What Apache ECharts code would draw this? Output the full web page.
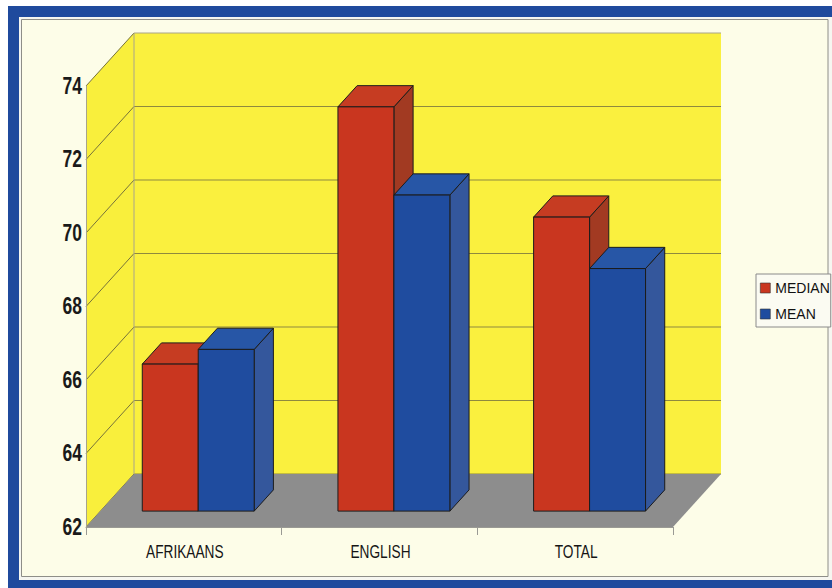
<!DOCTYPE html>
<html>
<head>
<meta charset="utf-8">
<script src="https://cdn.jsdelivr.net/npm/echarts@6/dist/echarts.min.js"></script>
<style>
  html, body { margin: 0; padding: 0; background: #ffffff; }
  #chart { width: 832px; height: 588px; }
</style>
</head>
<body>
<div id="chart"></div>
<script>
// Language groups and their scores
const CATEGORIES = ['AFRIKAANS', 'ENGLISH', 'TOTAL'];
const MEDIAN = [66.0, 73.0, 70.0];
const MEAN = [66.4, 70.6, 68.6];
const SERIES_NAMES = ['MEDIAN', 'MEAN'];
const Y_TICKS = [62, 64, 66, 68, 70, 72, 74];

// Pseudo-3D projection: the depth axis runs up and to the right
const DEPTH_DX = 48;
const DEPTH_DY = -53;
const BAR_NEAR = 0.3;   // bars sit between 30% and 70% of the depth
const BAR_FAR = 0.7;
const BAR_FRAC = 0.286; // width of one bar relative to a category band

// Condensed lettering: a regular face squeezed horizontally
const LABEL_FONT = "'Liberation Sans', Arial, sans-serif";
const SQUEEZE = 0.76;

const FACE = {
  MEDIAN: { front: '#c9361f', top: '#c63c22', side: '#a23a22' },
  MEAN:   { front: '#1f4c9f', top: '#2756a6', side: '#34579c' }
};

const chart = echarts.init(document.getElementById('chart'), null, { renderer: 'svg' });

// Side wall, back wall, floor and the value grid lines on the walls
function renderBox(params, api) {
  const cs = params.coordSys;
  const x0 = cs.x, x1 = cs.x + cs.width;
  const yTop = api.coord([0, Y_TICKS[Y_TICKS.length - 1]])[1];
  const yBot = api.coord([0, Y_TICKS[0]])[1];
  const children = [];
  children.push({ type: 'polygon', shape: { points: [[x0, yBot], [x0, yTop], [x0 + DEPTH_DX, yTop + DEPTH_DY], [x0 + DEPTH_DX, yBot + DEPTH_DY]] },
    style: { fill: '#f9ef3c' } });
  children.push({ type: 'rect', shape: { x: x0 + DEPTH_DX, y: yTop + DEPTH_DY, width: x1 - x0, height: yBot - yTop },
    style: { fill: '#faf03e' } });
  Y_TICKS.forEach(function (v, k) {
    const y = api.coord([0, v])[1];
    const c = (k === Y_TICKS.length - 1) ? '#a8a48a' : '#8e893e';
    children.push({ type: 'line', shape: { x1: x0, y1: y, x2: x0 + DEPTH_DX, y2: y + DEPTH_DY }, style: { stroke: '#77733a', lineWidth: 1 } });
    children.push({ type: 'line', shape: { x1: x0 + DEPTH_DX, y1: y + DEPTH_DY, x2: x1 + DEPTH_DX, y2: y + DEPTH_DY }, style: { stroke: c, lineWidth: 1 } });
  });
  children.push({ type: 'line', shape: { x1: x0 + DEPTH_DX, y1: yTop + DEPTH_DY, x2: x0 + DEPTH_DX, y2: yBot + DEPTH_DY }, style: { stroke: '#a8a48a', lineWidth: 1 } });
  children.push({ type: 'polygon', shape: { points: [[x0, yBot], [x1, yBot], [x1 + DEPTH_DX, yBot + DEPTH_DY], [x0 + DEPTH_DX, yBot + DEPTH_DY]] },
    style: { fill: '#8d8d8d' } });
  return { type: 'group', children: children };
}

// Tick labels of both axes, placed through the axis scales
function renderLabels(params, api) {
  const cs = params.coordSys;
  const children = [];
  Y_TICKS.forEach(function (v) {
    const y = api.coord([0, v])[1];
    children.push({ type: 'text', x: cs.x - 4, y: y, scaleX: SQUEEZE,
      style: { text: String(v), x: 0, y: 0, align: 'right', verticalAlign: 'middle',
        fontFamily: LABEL_FONT, fontWeight: 'bold', fontSize: 23, fill: '#1a1a1a' } });
  });
  const yBase = cs.y + cs.height;
  CATEGORIES.forEach(function (c, i) {
    const x = api.coord([i, Y_TICKS[0]])[0];
    children.push({ type: 'text', x: x + 1, y: yBase + 24, scaleX: SQUEEZE - 0.02,
      style: { text: c, x: 0, y: 0, align: 'center', verticalAlign: 'middle',
        fontFamily: LABEL_FONT, fontSize: 18.5, fill: '#151515' } });
  });
  return { type: 'group', children: children };
}

function barRenderer(seriesIdx, faces) {
  return function (params, api) {
    const i = api.value(0), v = api.value(1);
    const base = api.coord([i, Y_TICKS[0]]);
    const top = api.coord([i, v]);
    const band = api.size([1, 0])[0];
    const w = band * BAR_FRAC;
    const ox = DEPTH_DX * BAR_NEAR, oy = DEPTH_DY * BAR_NEAR;
    const dx = DEPTH_DX * (BAR_FAR - BAR_NEAR), dy = DEPTH_DY * (BAR_FAR - BAR_NEAR);
    const xl = base[0] + ox - w + seriesIdx * w;
    const xr = xl + w;
    const yb = base[1] + oy;
    const yt = top[1] + oy;
    const line = { stroke: '#1c1c1c', lineWidth: 1, lineJoin: 'round' };
    return {
      type: 'group',
      children: [
        { type: 'polygon', shape: { points: [[xr, yt], [xr + dx, yt + dy], [xr + dx, yb + dy], [xr, yb]] },
          style: Object.assign({ fill: faces.side }, line) },
        { type: 'polygon', shape: { points: [[xl, yt], [xr, yt], [xr + dx, yt + dy], [xl + dx, yt + dy]] },
          style: Object.assign({ fill: faces.top }, line) },
        { type: 'rect', shape: { x: xl, y: yt, width: w, height: yb - yt },
          style: Object.assign({ fill: faces.front }, line) }
      ]
    };
  };
}

const option = {
  animation: false,
  graphic: [
    { type: 'rect', z: -100, shape: { x: 8, y: 6, width: 900, height: 600 }, style: { fill: '#1f4a9d' } },
    { type: 'rect', z: -99, shape: { x: 19, y: 17, width: 900, height: 563 }, style: { fill: '#f6f6f0' } },
    { type: 'rect', z: -98, shape: { x: 21.5, y: 19.5, width: 806.5, height: 557 }, style: { fill: '#fdfde8', stroke: '#8e8e88', lineWidth: 1 } }
  ],
  grid: { left: 86, top: 86, width: 587, height: 441, containLabel: false },
  legend: {
    data: SERIES_NAMES,
    orient: 'vertical',
    left: 756, top: 274,
    padding: [7, 1, 6, 4],
    itemGap: 12,
    itemWidth: 10, itemHeight: 10,
    icon: 'rect',
    backgroundColor: '#fbfbf2',
    borderColor: '#8a8a8a', borderWidth: 1,
    textStyle: { fontFamily: LABEL_FONT, fontSize: 14, color: '#111111' },
    itemStyle: { borderColor: '#333333', borderWidth: 0.6 }
  },
  xAxis: {
    type: 'category',
    data: CATEGORIES,
    axisLine: { show: true, lineStyle: { color: '#9a9a94', width: 1 } },
    axisTick: { show: true, length: 8, lineStyle: { color: '#9a9a94' } },
    axisLabel: { show: false },
    splitLine: { show: false },
    z: 5
  },
  yAxis: {
    type: 'value',
    min: 62, max: 74, interval: 2,
    axisLine: { show: true, lineStyle: { color: '#a8a48a', width: 1 } },
    axisTick: { show: false },
    axisLabel: { show: false },
    splitLine: { show: false },
    z: 5
  },
  series: [
    { type: 'custom', name: 'box', z: 1, silent: true, renderItem: renderBox, data: [[0, Y_TICKS[0]]] },
    { type: 'custom', name: SERIES_NAMES[0], z: 3, itemStyle: { color: FACE.MEDIAN.front },
      renderItem: barRenderer(0, FACE.MEDIAN), data: MEDIAN.map(function (v, i) { return [i, v]; }) },
    { type: 'custom', name: SERIES_NAMES[1], z: 4, itemStyle: { color: FACE.MEAN.front },
      renderItem: barRenderer(1, FACE.MEAN), data: MEAN.map(function (v, i) { return [i, v]; }) },
    { type: 'custom', name: 'labels', z: 6, silent: true, renderItem: renderLabels, data: [[0, Y_TICKS[0]]] }
  ]
};

chart.setOption(option);
</script>
</body>
</html>
